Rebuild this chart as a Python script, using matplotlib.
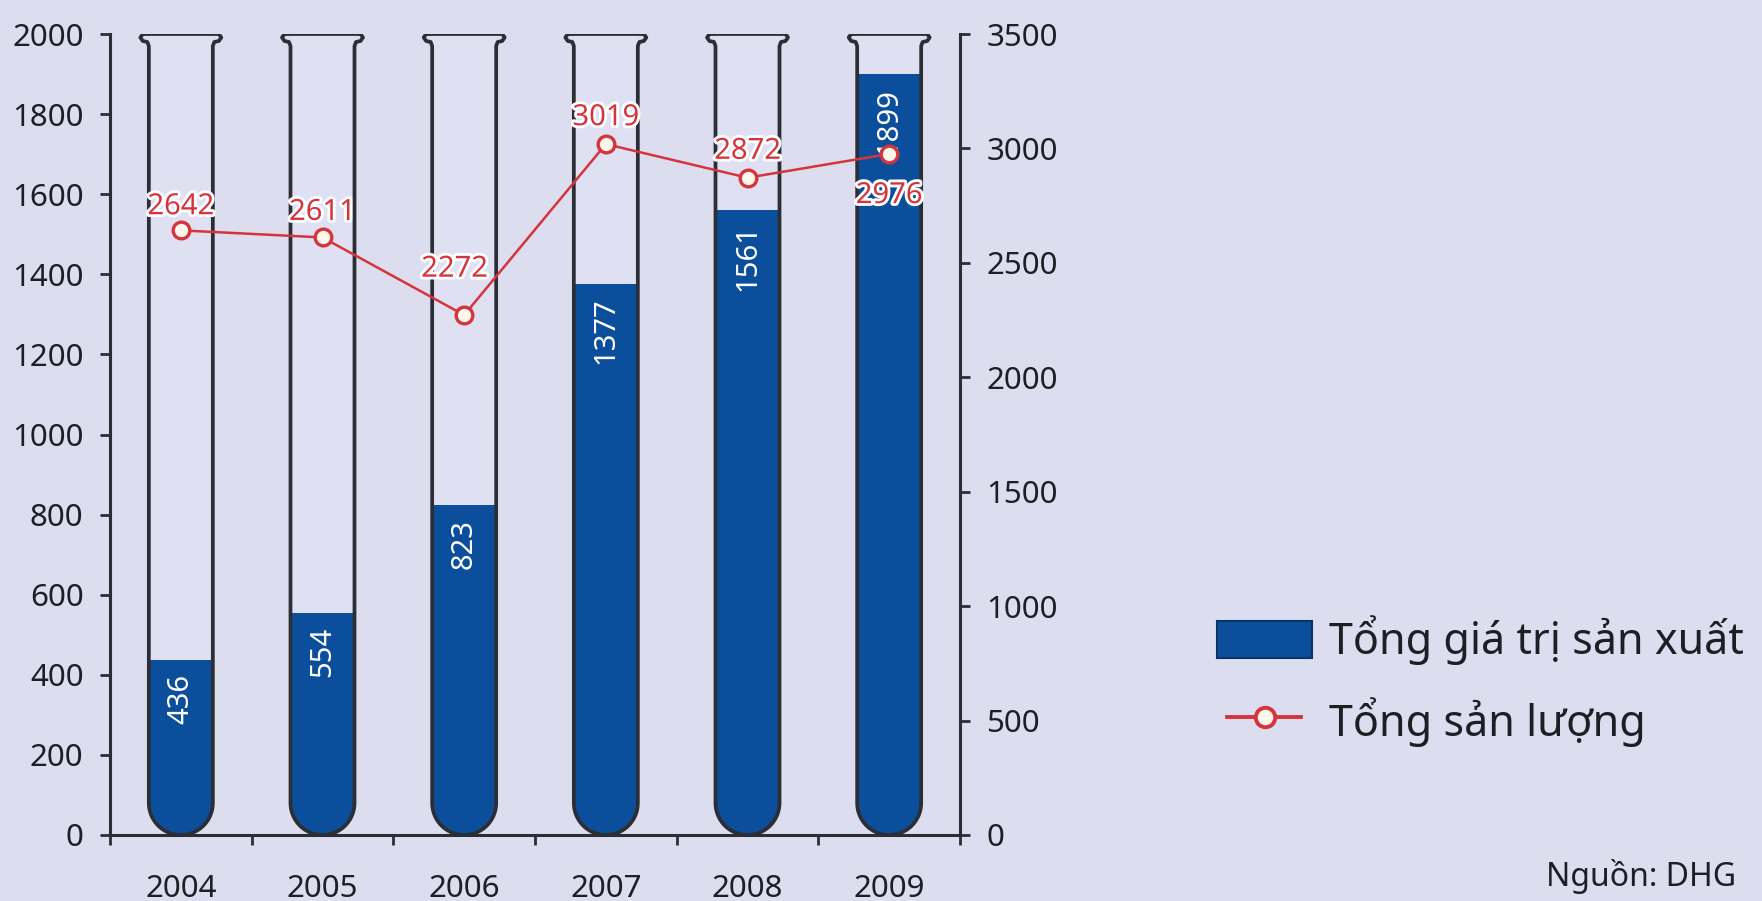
import numpy as np
import matplotlib
matplotlib.use('Agg')
import matplotlib.pyplot as plt
from matplotlib.path import Path
from matplotlib.patches import PathPatch, Rectangle
from matplotlib.lines import Line2D
import matplotlib.patheffects as pe

# ---- data ----
years = ['2004', '2005', '2006', '2007', '2008', '2009']
production_value = [436, 554, 823, 1377, 1561, 1899]     # left axis (bars in tubes)
output_volume = [2642, 2611, 2272, 3019, 2872, 2976]      # right axis (line)
left_ticks = list(range(0, 2001, 200))
right_ticks = list(range(0, 3501, 500))
legend_labels = ['Tổng giá trị sản xuất', 'Tổng sản lượng']
source_note = 'Nguồn: DHG'

# label offsets (points) for the line values
label_offsets = [(0, 17), (0, 18), (-7, 33), (0, 19), (0, 19), (0, -30)]

# ---- style ----
BG = '#dcdef0'
TUBE_IN = '#dfe1f2'
BLUE = '#0b4f9c'
DARK = '#2c2e35'
TXT = '#1e1e24'
RED = '#d6343d'
FS = 22.5

plt.rcParams['font.family'] = ['Noto Sans', 'DejaVu Sans']

W, H = 1762, 901
fig = plt.figure(figsize=(W / 100, H / 100), dpi=100, facecolor=BG)
ax = fig.add_axes([110 / W, 1 - 835 / H, 850 / W, 801 / H], facecolor=BG)

x = np.arange(len(years))
ax.set_xlim(-0.5, len(years) - 0.5)
ax.set_ylim(0, left_ticks[-1])

# pixel size of one data unit, used to keep the tube shape round on screen
o = ax.transData.transform((0, 0))
px_x = ax.transData.transform((1, 0))[0] - o[0]
px_y = ax.transData.transform((0, 1))[1] - o[1]

R = 32.0                       # tube inner half-width, px
top_px = left_ticks[-1] * px_y
arc_t = np.linspace(np.pi, 2 * np.pi, 40)
arc = [(R * np.cos(t), R + R * np.sin(t)) for t in arc_t]


def to_data(xc, pts):
    return [(xc + dx / px_x, dy / px_y) for dx, dy in pts]


bar_w = 2 * R / px_x
bars = ax.bar(x, production_value, width=bar_w, color=BLUE, zorder=2,
              linewidth=0)

for i, xc in enumerate(x):
    # inside of the tube (also the clip region for the blue fill)
    inner = [(-R, top_px)] + [(-R, R)] + arc + [(R, R), (R, top_px)]
    ip = to_data(xc, inner)
    inner_patch = PathPatch(Path(ip + [ip[0]], closed=True), facecolor=TUBE_IN,
                            edgecolor='none', zorder=1)
    ax.add_patch(inner_patch)
    bars[i].set_clip_path(inner_patch)

    # glass outline with the flared rim
    outline = ([(-R - 6, top_px), (-R - 8.5, top_px - 3.5), (-R - 6, top_px - 7),
                (-R - 1.5, top_px - 8), (-R, top_px - 12), (-R, R)] + arc +
               [(R, R), (R, top_px - 12), (R + 1.5, top_px - 8), (R + 6, top_px - 7),
                (R + 8.5, top_px - 3.5), (R + 6, top_px), (-R - 6, top_px)])
    op = to_data(xc, outline)
    ax.add_patch(PathPatch(Path(op), facecolor='none', edgecolor=DARK, lw=2.7,
                           joinstyle='round', capstyle='round', zorder=3))

for xi, v in zip(x, production_value):
    ax.annotate(str(v), (xi, v), xytext=(0, -10), textcoords='offset points',
                rotation=90, ha='center', va='top', color='white', fontsize=21,
                zorder=4)

# ---- axes styling ----
ax.set_yticks(left_ticks)
ax.set_xticks(np.arange(-0.5, len(years), 1.0))
ax.set_xticklabels([])
ax.set_xticks(x, minor=True)
ax.set_xticklabels(years, minor=True)
ax.tick_params(axis='x', which='major', length=7, width=2, direction='out', color=DARK)
ax.tick_params(axis='x', which='minor', length=0, pad=28, labelsize=FS, labelcolor=TXT)
ax.tick_params(axis='y', length=7, width=2, direction='out', color=DARK,
               pad=12, labelsize=FS, labelcolor=TXT)
for s in ('top', 'right'):
    ax.spines[s].set_visible(False)
for s in ('left', 'bottom'):
    ax.spines[s].set_color(DARK)
    ax.spines[s].set_linewidth(2.2)

ax2 = ax.twinx()
ax2.set_ylim(0, right_ticks[-1])
ax2.set_yticks(right_ticks)
ax2.tick_params(axis='y', length=7, width=2, direction='out', color=DARK,
                pad=12, labelsize=FS, labelcolor=TXT)
for s in ('top', 'left', 'bottom'):
    ax2.spines[s].set_visible(False)
ax2.spines['right'].set_color(DARK)
ax2.spines['right'].set_linewidth(2.2)

ax2.plot(x, output_volume, color=RED, lw=1.8, marker='o', ms=12,
         mfc='#fff7ec', mec=RED, mew=2.4, zorder=5)

halo = [pe.withStroke(linewidth=4, foreground='white')]
for (xi, v), off in zip(zip(x, output_volume), label_offsets):
    ax2.annotate(str(v), (xi, v), xytext=off, textcoords='offset points',
                 ha='center', va='center', color=RED, fontsize=21,
                 path_effects=halo, zorder=6)

# ---- legend and source ----
fig.add_artist(Rectangle((1217 / W, 1 - 658 / H), 95 / W, 37 / H,
                         transform=fig.transFigure, facecolor=BLUE,
                         edgecolor='#0a3468', lw=1.5))
ly = 1 - 717 / H
fig.add_artist(Line2D([1227 / W, 1301 / W], [ly, ly], transform=fig.transFigure,
                      color=RED, lw=2.8))
fig.add_artist(Line2D([1265 / W], [ly], transform=fig.transFigure, marker='o',
                      ms=14, mfc='#fff7ec', mec=RED, mew=2.8, lw=0))
fig.text(1329 / W, 1 - 654 / H, legend_labels[0], fontsize=31, va='baseline', color=TXT)
fig.text(1329 / W, 1 - 736 / H, legend_labels[1], fontsize=31, va='baseline', color=TXT)
fig.text(1736 / W, 1 - 886 / H, source_note, fontsize=23, ha='right', va='baseline',
         color=TXT)

fig.savefig('out.png', dpi=100, facecolor=BG)
